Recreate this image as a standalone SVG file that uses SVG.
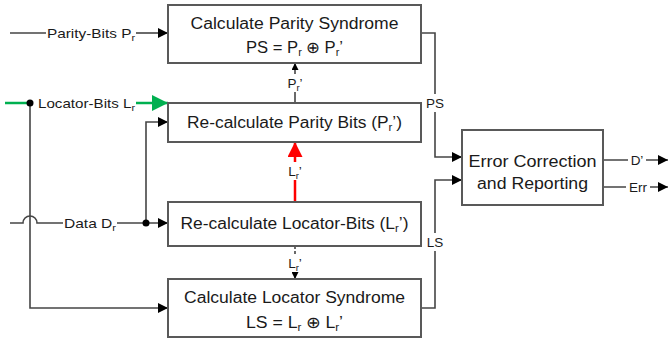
<svg xmlns="http://www.w3.org/2000/svg" width="670" height="339" viewBox="0 0 670 339">
<style>
.box{fill:#fff;stroke:#595959;stroke-width:2}
.ln{fill:none;stroke:#454545;stroke-width:1.6}
.t{font-family:"Liberation Sans",Arial,sans-serif;font-size:16px;fill:#1a1a1a;text-anchor:middle}
.l{font-family:"Liberation Sans",Arial,sans-serif;font-size:13.5px;fill:#1a1a1a}
.lc{text-anchor:middle}
.bg{fill:#fff}
</style>
<defs>
<marker id="arr" viewBox="0 0 10 10" refX="10" refY="5" markerWidth="11" markerHeight="10" orient="auto" markerUnits="userSpaceOnUse"><path d="M0,0 L10,5 L0,10z" fill="#000"/></marker>
<marker id="sarr" viewBox="0 0 10 10" refX="10" refY="5" markerWidth="7" markerHeight="7" orient="auto" markerUnits="userSpaceOnUse"><path d="M0,0 L10,5 L0,10z" fill="#000"/></marker>
<marker id="garr" viewBox="0 0 10 10" refX="10" refY="5" markerWidth="18" markerHeight="16" orient="auto" markerUnits="userSpaceOnUse"><path d="M0,0 L10,5 L0,10z" fill="#00b050"/></marker>
<marker id="rarr" viewBox="0 0 10 10" refX="10" refY="5" markerWidth="19" markerHeight="15" orient="auto" markerUnits="userSpaceOnUse"><path d="M0,0 L10,5 L0,10z" fill="#ff0000"/></marker>
</defs>

<g id="connectors">
<!-- Parity bits input -->
<path class="ln" d="M10,33 H46" stroke="#808080"/>
<path class="ln" d="M136,33 H168" marker-end="url(#arr)"/>
<text class="l" x="47" y="38" textLength="88" lengthAdjust="spacingAndGlyphs">Parity-Bits P<tspan font-size="9.5" dy="3">r</tspan></text>
<!-- Locator bits input (green) -->
<path d="M5,103 H30" fill="none" stroke="#00b050" stroke-width="2.5"/>
<path d="M136,103 H168" fill="none" stroke="#00b050" stroke-width="2.5" marker-end="url(#garr)"/>
<text class="l" x="38" y="108" textLength="97" lengthAdjust="spacingAndGlyphs">Locator-Bits L<tspan font-size="9.5" dy="3">r</tspan></text>
<path class="ln" d="M30,103 V308 H168" marker-end="url(#arr)"/>
<circle cx="30" cy="103" r="3.5" fill="#000"/>
<!-- Data input with hop -->
<path class="ln" d="M10,223 H23 A7,7 0 0 1 37,223 H63" stroke="#707070"/>
<text class="l" x="64" y="228" textLength="52" lengthAdjust="spacingAndGlyphs">Data D<tspan font-size="9.5" dy="3">r</tspan></text>
<path class="ln" d="M117,223 H168" marker-end="url(#arr)"/>
<path class="ln" d="M146,223 V122 H168" marker-end="url(#arr)"/>
<circle cx="146" cy="223" r="3.5" fill="#000"/>
<!-- Pr' up -->
<path class="ln" d="M295,103 V63" marker-end="url(#sarr)"/>
<rect class="bg" x="285" y="74" width="20" height="18"/>
<text class="l lc" x="295" y="88">P<tspan font-size="9.5" dy="3">r</tspan><tspan dy="-3">’</tspan></text>
<!-- Lr' red up -->
<path d="M295,202 V142" fill="none" stroke="#ff0000" stroke-width="2.5" marker-end="url(#rarr)"/>
<rect class="bg" x="285" y="162" width="20" height="18"/>
<text class="l lc" x="295" y="176">L<tspan font-size="9.5" dy="3">r</tspan><tspan dy="-3">’</tspan></text>
<!-- Lr' down dashed -->
<path class="ln" d="M295,246 V279" stroke="#606060" stroke-dasharray="3,2" stroke-width="1.2" marker-end="url(#sarr)"/>
<rect class="bg" x="285" y="254" width="20" height="18"/>
<text class="l lc" x="295" y="268">L<tspan font-size="9.5" dy="3">r</tspan><tspan dy="-3">’</tspan></text>
<!-- PS -->
<path class="ln" d="M421,33 H435 V157 H462" marker-end="url(#arr)"/>
<rect class="bg" x="424" y="94" width="22" height="18"/>
<text class="l lc" x="435" y="108">PS</text>
<!-- LS -->
<path class="ln" d="M421,308 H435 V180 H462" marker-end="url(#arr)"/>
<rect class="bg" x="424" y="233" width="22" height="18"/>
<text class="l lc" x="435" y="247">LS</text>
<!-- outputs -->
<path class="ln" d="M603,160 H668" marker-end="url(#arr)"/>
<rect class="bg" x="628" y="151" width="18" height="17"/>
<text class="l lc" x="637" y="165">D’</text>
<path class="ln" d="M603,187 H668" marker-end="url(#arr)"/>
<rect class="bg" x="626" y="178" width="24" height="17"/>
<text class="l lc" x="638" y="192">Err</text>
</g>

<g id="n-parity-syndrome">
<rect class="box" x="168" y="5" width="253" height="58"/>
<text class="t" x="294.5" y="29" textLength="208" lengthAdjust="spacingAndGlyphs">Calculate Parity Syndrome</text>
<text class="t" x="294.5" y="53" textLength="97" lengthAdjust="spacingAndGlyphs">PS = P<tspan font-size="10.5" dy="3">r</tspan><tspan dy="-3"> ⊕ P</tspan><tspan font-size="10.5" dy="3">r</tspan><tspan dy="-3">’</tspan></text>
</g>

<g id="n-recalc-parity">
<rect class="box" x="168" y="103" width="253" height="39"/>
<text class="t" x="294.5" y="128" textLength="215" lengthAdjust="spacingAndGlyphs">Re-calculate Parity Bits (P<tspan font-size="10.5" dy="3">r</tspan><tspan dy="-3">’)</tspan></text>
</g>

<g id="n-recalc-locator">
<rect class="box" x="168" y="202" width="253" height="44"/>
<text class="t" x="294.5" y="229" textLength="228" lengthAdjust="spacingAndGlyphs">Re-calculate Locator-Bits (L<tspan font-size="10.5" dy="3">r</tspan><tspan dy="-3">’)</tspan></text>
</g>

<g id="n-locator-syndrome">
<rect class="box" x="168" y="279" width="253" height="58"/>
<text class="t" x="294.5" y="303" textLength="221" lengthAdjust="spacingAndGlyphs">Calculate Locator Syndrome</text>
<text class="t" x="294.5" y="328" textLength="97" lengthAdjust="spacingAndGlyphs">LS = L<tspan font-size="10.5" dy="3">r</tspan><tspan dy="-3">  ⊕ L</tspan><tspan font-size="10.5" dy="3">r</tspan><tspan dy="-3">’</tspan></text>
</g>

<g id="n-error-correction">
<rect class="box" x="462" y="130" width="141" height="75"/>
<text class="t" x="532.5" y="167" textLength="128" lengthAdjust="spacingAndGlyphs">Error Correction</text>
<text class="t" x="532.5" y="189" textLength="111" lengthAdjust="spacingAndGlyphs">and Reporting</text>
</g>
</svg>
